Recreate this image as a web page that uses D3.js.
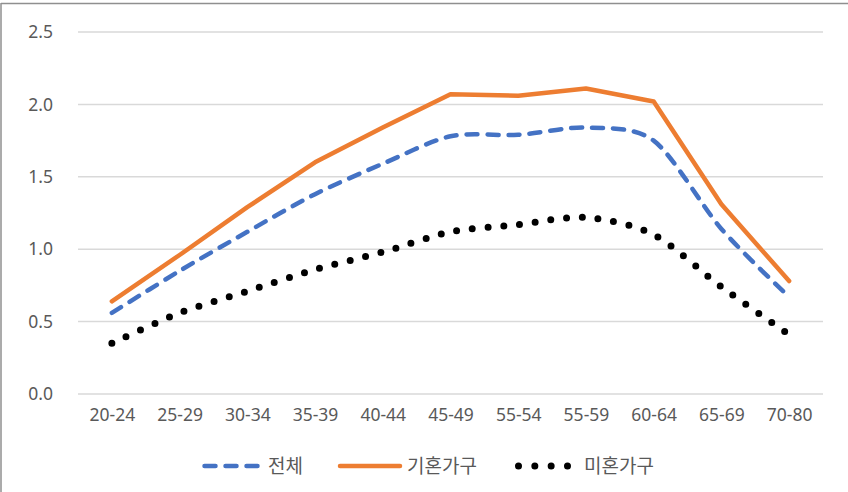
<!DOCTYPE html>
<html>
<head>
<meta charset="utf-8">
<script src="https://cdn.jsdelivr.net/npm/d3@7"></script>
<style>
  html, body { margin: 0; padding: 0; background: #fff; }
  svg { display: block; }
  text { font-family: "Noto Sans", "Noto Sans CJK KR", sans-serif; fill: #595959; }
</style>
</head>
<body>
<svg id="chart" width="848" height="492"></svg>
<script>
const categories = ["20-24","25-29","30-34","35-39","40-44","45-49","55-54","55-59","60-64","65-69","70-80"];
const seriesNames = ["전체","기혼가구","미혼가구"];
const totalValues   = [0.56, 0.85, 1.12, 1.38, 1.59, 1.78, 1.79, 1.84, 1.75, 1.14, 0.67];
const marriedValues = [0.64, 0.96, 1.29, 1.60, 1.84, 2.07, 2.06, 2.11, 2.02, 1.31, 0.78];
const singleValues  = [0.35, 0.56, 0.71, 0.86, 0.98, 1.12, 1.17, 1.22, 1.10, 0.74, 0.41];
const yTicks = [0, 0.5, 1.0, 1.5, 2.0, 2.5];

const svg = d3.select("#chart");

// outer frame (only top and left visible in the crop)
svg.append("line").attr("x1",1).attr("x2",1).attr("y1",3).attr("y2",492)
  .attr("stroke","#8f8f8f").attr("stroke-width",1.5);
svg.append("line").attr("x1",1).attr("x2",848).attr("y1",3.5).attr("y2",3.5)
  .attr("stroke","#8f8f8f").attr("stroke-width",1.5);

const x = d3.scalePoint().domain(categories).range([78, 823]).padding(0.5);
const y = d3.scaleLinear().domain([0, 2.5]).range([394, 32]);

// gridlines
svg.append("g").selectAll("line").data(yTicks).join("line")
  .attr("x1", 78).attr("x2", 823)
  .attr("y1", d => y(d)).attr("y2", d => y(d))
  .attr("stroke", "#d9d9d9").attr("stroke-width", 1.5);

// y axis labels
const yAxis = d3.axisLeft(y).tickValues(yTicks).tickFormat(d3.format(".1f")).tickSize(0).tickPadding(0);
const gy = svg.append("g").attr("transform", "translate(53,0)").call(yAxis);
gy.select(".domain").remove();
gy.selectAll("text").attr("font-size", 17.5).attr("fill", "#595959")
  .style("font-family", "'Noto Sans', sans-serif");

// x axis labels
const xAxis = d3.axisBottom(x).tickSize(0).tickPadding(0);
const gx = svg.append("g").attr("transform", "translate(0,409)").call(xAxis);
gx.select(".domain").remove();
gx.selectAll("text").attr("font-size", 17.5).attr("fill", "#595959")
  .style("font-family", "'Noto Sans', sans-serif");

const smooth = d3.line().x((d,i) => x(categories[i])).y(d => y(d)).curve(d3.curveCardinal.tension(0.15));
const straight = d3.line().x((d,i) => x(categories[i])).y(d => y(d));

// 기혼가구 (orange solid)
svg.append("path").attr("d", straight(marriedValues))
  .attr("fill","none").attr("stroke","#ED7D31").attr("stroke-width",4.5)
  .attr("stroke-linejoin","round").attr("stroke-linecap","round");

// 전체 (blue dashed)
svg.append("path").attr("d", smooth(totalValues))
  .attr("fill","none").attr("stroke","#4472C4").attr("stroke-width",4.5)
  .attr("stroke-dasharray","11,10").attr("stroke-linecap","round");

// 미혼가구 (black dotted)
svg.append("path").attr("d", smooth(singleValues))
  .attr("fill","none").attr("stroke","#000").attr("stroke-width",7)
  .attr("stroke-dasharray","0,15.8").attr("stroke-linecap","round");

// legend
const ly = 466;
const legend = svg.append("g");
legend.append("path").attr("d", d3.line()([[204.5, ly],[257.5, ly]]))
  .attr("stroke","#4472C4").attr("stroke-width",4.5).attr("fill","none")
  .attr("stroke-dasharray","11,10").attr("stroke-linecap","round");
legend.append("text").attr("x", 268).attr("y", ly).attr("dy","0.35em")
  .attr("font-size", 19).style("font-family","'Noto Sans CJK KR', sans-serif").text(seriesNames[0]);

legend.append("path").attr("d", d3.line()([[340, ly],[400, ly]]))
  .attr("stroke","#ED7D31").attr("stroke-width",4.5).attr("fill","none")
  .attr("stroke-linecap","round");
legend.append("text").attr("x", 407).attr("y", ly).attr("dy","0.35em")
  .attr("font-size", 19).style("font-family","'Noto Sans CJK KR', sans-serif").text(seriesNames[1]);

legend.append("path").attr("d", d3.line()([[518.5, ly],[567.5, ly]]))
  .attr("stroke","#000").attr("stroke-width",7).attr("fill","none")
  .attr("stroke-dasharray","0,16.33").attr("stroke-linecap","round");
legend.append("text").attr("x", 584).attr("y", ly).attr("dy","0.35em")
  .attr("font-size", 19).style("font-family","'Noto Sans CJK KR', sans-serif").text(seriesNames[2]);
</script>
</body>
</html>
